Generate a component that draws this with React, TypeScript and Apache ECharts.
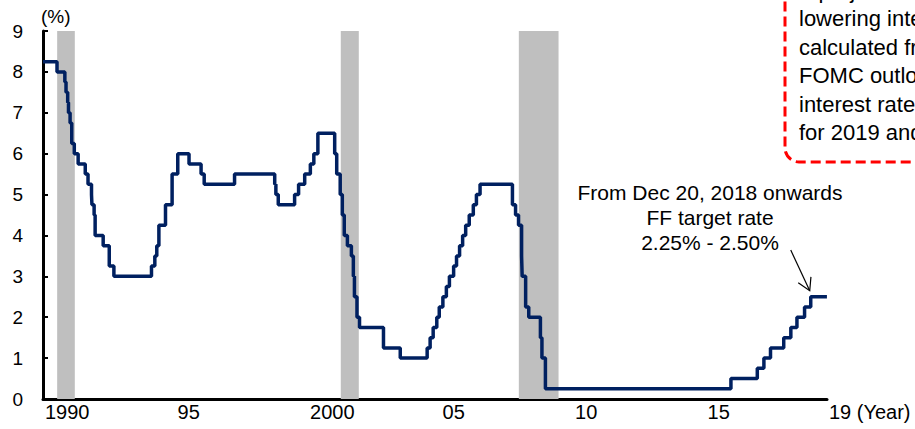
import { useEffect, useRef } from "react";
import * as echarts from "echarts";

// FF target rate (upper bound, %) and the dates it took effect
const rateChangeDates = [
  "1990-01-01", "1990-07-13", "1990-10-29", "1990-11-14", "1990-12-07", "1990-12-18",
  "1991-01-09", "1991-02-01", "1991-03-08", "1991-04-30", "1991-08-06", "1991-09-13",
  "1991-10-31", "1991-11-06", "1991-12-06", "1991-12-20", "1992-04-09", "1992-07-02",
  "1992-09-04", "1994-02-04", "1994-03-22", "1994-04-18", "1994-05-17", "1994-08-16",
  "1994-11-15", "1995-02-01", "1995-07-06", "1995-12-19", "1996-01-31", "1997-03-25",
  "1998-09-29", "1998-10-15", "1998-11-17", "1999-06-30", "1999-08-24", "1999-11-16",
  "2000-02-02", "2000-03-21", "2000-05-16", "2001-01-03", "2001-01-31", "2001-03-20",
  "2001-04-18", "2001-05-15", "2001-06-27", "2001-08-21", "2001-09-17", "2001-10-02",
  "2001-11-06", "2001-12-11", "2002-11-06", "2003-06-25", "2004-06-30", "2004-08-10",
  "2004-09-21", "2004-11-10", "2004-12-14", "2005-02-02", "2005-03-22", "2005-05-03",
  "2005-06-30", "2005-08-09", "2005-09-20", "2005-11-01", "2005-12-13", "2006-01-31",
  "2006-03-28", "2006-05-10", "2006-06-29", "2007-09-18", "2007-10-31", "2007-12-11",
  "2008-01-22", "2008-01-30", "2008-03-18", "2008-04-30", "2008-10-08", "2008-10-29",
  "2008-12-16", "2015-12-16", "2016-12-14", "2017-03-15", "2017-06-14", "2017-12-13",
  "2018-03-21", "2018-06-13", "2018-09-26", "2018-12-20", "2019-07-31",
];
const rateTargets = [
  8.25, 8.0, 7.75, 7.5, 7.25, 7.0,
  6.75, 6.25, 6.0, 5.75, 5.5, 5.25,
  5.0, 4.75, 4.5, 4.0, 3.75, 3.25,
  3.0, 3.25, 3.5, 3.75, 4.25, 4.75,
  5.5, 6.0, 5.75, 5.5, 5.25, 5.5,
  5.25, 5.0, 4.75, 5.0, 5.25, 5.5,
  5.75, 6.0, 6.5, 6.0, 5.5, 5.0,
  4.5, 4.0, 3.75, 3.5, 3.0, 2.5,
  2.0, 1.75, 1.25, 1.0, 1.25, 1.5,
  1.75, 2.0, 2.25, 2.5, 2.75, 3.0,
  3.25, 3.5, 3.75, 4.0, 4.25, 4.5,
  4.75, 5.0, 5.25, 4.75, 4.5, 4.25,
  3.5, 3.0, 2.25, 2.0, 1.5, 1.0,
  0.25, 0.5, 0.75, 1.0, 1.25, 1.5,
  1.75, 2.0, 2.25, 2.5, 2.5,
];

// Recession periods (shaded)
const recessionStarts = ["1990-07-15", "2001-03-28", "2007-12-15"];
const recessionEnds = ["1991-03-15", "2001-12-01", "2009-06-15"];

// Axis range and year labels
const axisStartDate = "1990-01-01";
const axisEndDate = "2019-08-01";
const xTickDates = ["1990-01-01", "1995-01-01", "2000-01-01", "2005-01-01", "2010-01-01", "2015-01-01", "2019-08-01"];
const xTickLabels = ["1990", "95", "2000", "05", "10", "15", "19 (Year)"];

// Annotation texts
const targetNote = ["From Dec 20, 2018 onwards", "FF target rate", "2.25% - 2.50%"];
const outlookNote = [
  "A projected path of",
  "lowering interest rates",
  "calculated from the",
  "FOMC outlook on",
  "interest rates (dots)",
  "for 2019 and 2020",
];
const annotatedDate = "2018-12-20";
const annotatedRate = 2.5;

const FONT = "'Liberation Sans', Arial, sans-serif";
const NAVY = "#002060";

function toYear(s: string): number {
  const [y, m, d] = s.split("-").map(Number);
  const start = Date.UTC(y, 0, 1);
  const next = Date.UTC(y + 1, 0, 1);
  return y + (Date.UTC(y, m - 1, d) - start) / (next - start);
}

export default function App() {
  const ref = useRef<HTMLDivElement>(null);

  useEffect(() => {
    document.body.style.margin = "0";
    if (!ref.current) return;
    const chart = echarts.init(ref.current, undefined, { renderer: "svg" });

    const xMin = toYear(axisStartDate);
    const xMax = toYear(axisEndDate);
    const tickValues = xTickDates.map(toYear);
    const lineData = rateChangeDates.map((d, i) => [toYear(d), rateTargets[i]]);
    const bands = recessionStarts.map((s, i) => [
      { xAxis: toYear(s) },
      { xAxis: toYear(recessionEnds[i]) },
    ]);

    chart.setOption({
      animation: false,
      grid: { left: 43, right: 88, top: 31, bottom: 30 },
      xAxis: {
        type: "value",
        min: xMin,
        max: xMax,
        splitLine: { show: false },
        axisLine: { show: true, onZero: false, lineStyle: { color: "#000", width: 3 } },
        axisTick: { show: false },
        axisLabel: {
          customValues: tickValues,
          formatter: (v: number) => {
            const i = tickValues.findIndex((t) => Math.abs(t - v) < 1e-6);
            return i >= 0 ? xTickLabels[i] : "";
          },
          align: "left",
          padding: [0, 0, 0, 2],
          margin: 3,
          color: "#000",
          fontSize: 20,
          fontFamily: FONT,
          hideOverlap: false,
        },
      },
      yAxis: {
        type: "value",
        min: 0,
        max: 9,
        interval: 1,
        splitLine: { show: false },
        axisLine: { show: true, lineStyle: { color: "#000", width: 3 } },
        axisTick: { show: true, inside: true, length: 5, lineStyle: { color: "#000", width: 2 } },
        axisLabel: { color: "#000", fontSize: 19, fontFamily: FONT, margin: 20 },
      },
      series: [
        {
          name: "Recession",
          type: "line",
          data: [],
          z: 1,
          markArea: {
            silent: true,
            itemStyle: { color: "#bfbfbf", opacity: 1 },
            data: bands,
          },
        },
        {
          name: "FF target rate",
          type: "line",
          step: "end",
          symbol: "none",
          z: 3,
          lineStyle: { color: NAVY, width: 3.5 },
          data: lineData,
        },
      ],
      graphic: [
        {
          id: "unit",
          type: "text",
          left: 41,
          top: 7,
          style: { text: "(%)", fill: "#000", font: `19px ${FONT}` },
        },
        {
          id: "outlookBox",
          type: "rect",
          shape: { x: 785, y: -70, width: 320, height: 232, r: 14 },
          style: { fill: "none", stroke: "#ff0000", lineWidth: 3, lineDash: [10, 5] },
          z: 10,
        },
        {
          id: "outlookText",
          type: "text",
          x: 799,
          y: -24,
          style: {
            text: outlookNote.join("\n"),
            fill: "#000",
            font: `22px ${FONT}`,
            lineHeight: 28.5,
          },
          z: 10,
        },
        {
          id: "targetText",
          type: "text",
          x: 710,
          y: 180,
          style: {
            text: targetNote.join("\n"),
            fill: "#000",
            font: `21px ${FONT}`,
            lineHeight: 25,
            align: "center",
          },
          z: 10,
        },
      ],
    });

    // Arrow pointing at the latest target rate step
    const p = chart.convertToPixel({ xAxisIndex: 0, yAxisIndex: 0 }, [
      toYear(annotatedDate),
      annotatedRate,
    ]) as number[];
    const tip = [p[0] - 1, p[1] - 6];
    chart.setOption({
      graphic: [
        {
          id: "arrowShaft",
          type: "line",
          shape: { x1: tip[0] - 19, y1: tip[1] - 40.7, x2: tip[0], y2: tip[1] },
          style: { stroke: "#000", lineWidth: 1.2 },
          z: 10,
        },
        {
          id: "arrowHead",
          type: "polyline",
          shape: {
            points: [
              [tip[0] - 11.5, tip[1] - 8],
              [tip[0], tip[1]],
              [tip[0] + 1.2, tip[1] - 13.9],
            ],
          },
          style: { stroke: "#000", lineWidth: 1.2, fill: "none" },
          z: 10,
        },
      ],
    });

    return () => chart.dispose();
  }, []);

  return <div ref={ref} style={{ width: 915, height: 429 }} />;
}
